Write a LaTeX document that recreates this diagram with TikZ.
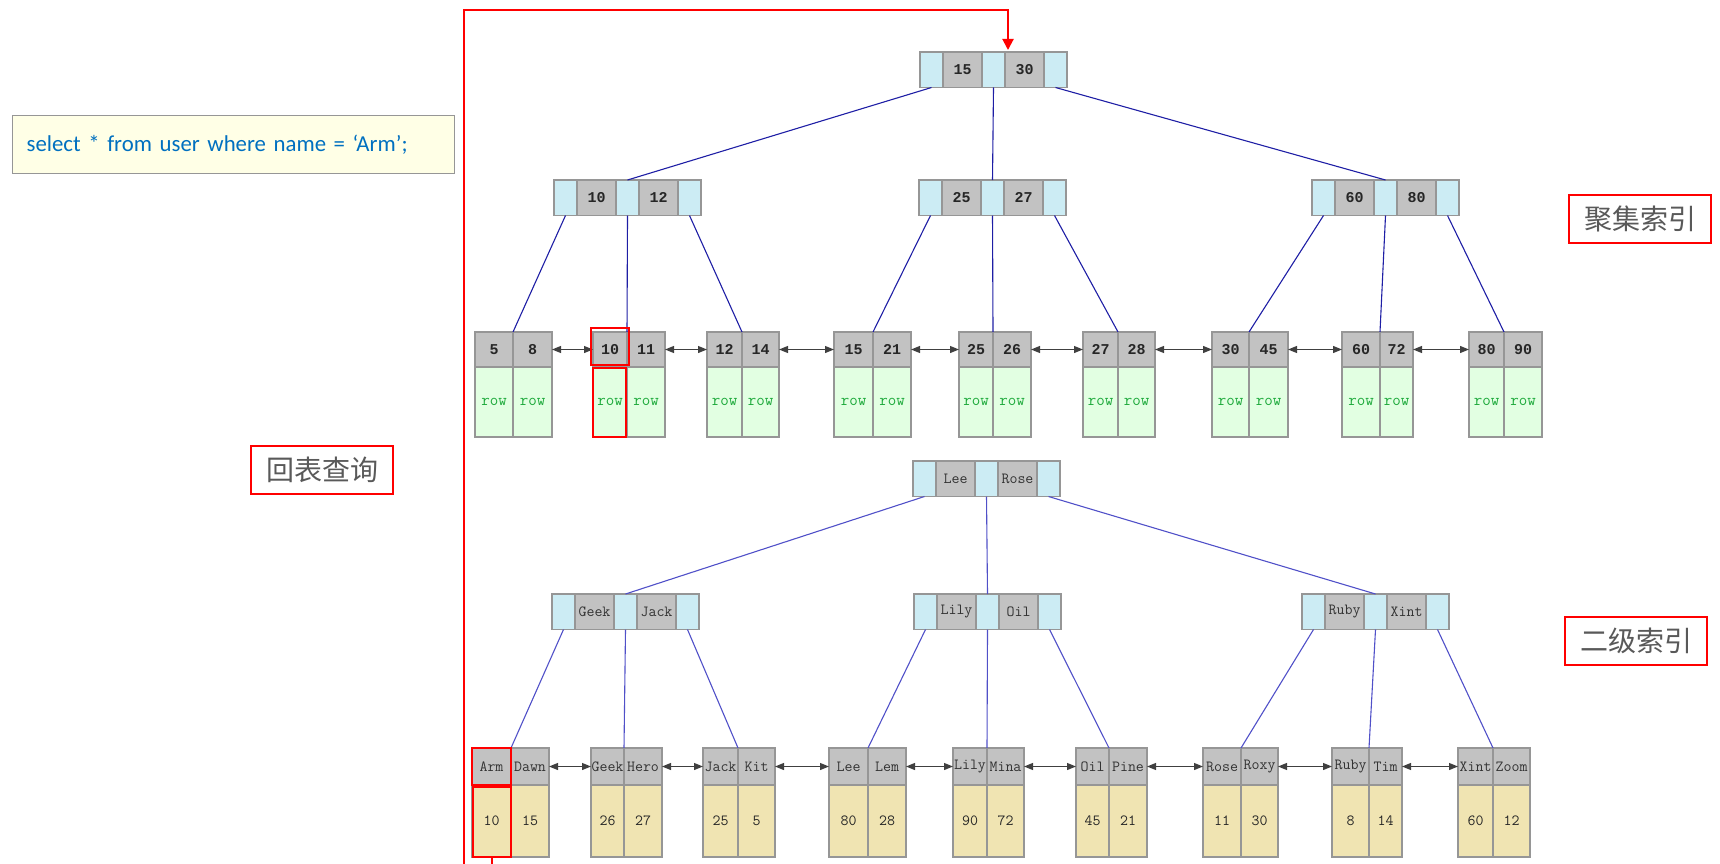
\documentclass[tikz,border=0pt]{standalone}
\usepackage{fontspec}
\newfontfamily\cjk{Noto Sans CJK SC}
\newfontfamily\calib{Carlito}
\newfontfamily\keyfont{Liberation Mono}
\usepackage{tikz}
\usetikzlibrary{positioning,arrows.meta}

\definecolor{ptrfill}{RGB}{204,236,244}
\definecolor{keyfill}{RGB}{194,194,194}
\definecolor{cellborder}{RGB}{150,150,150}
\definecolor{rowfill}{RGB}{226,255,226}
\definecolor{rowtext}{RGB}{30,170,60}
\definecolor{valfill}{RGB}{240,228,178}
\definecolor{clink}{RGB}{30,30,165}
\definecolor{slink}{RGB}{80,80,200}
\definecolor{leafarrow}{RGB}{64,64,64}
\definecolor{sqlfill}{RGB}{255,255,230}
\definecolor{sqltext}{RGB}{0,112,192}
\definecolor{labeltext}{RGB}{89,89,89}

\tikzset{
  cell/.style={draw=cellborder, line width=1.2pt, inner sep=0pt, outer sep=0pt, anchor=north west},
  ptr/.style={cell, fill=ptrfill, minimum width=23, minimum height=35.5},
  keycell/.style={cell, fill=keyfill, minimum width=39, minimum height=35.5},
  ckey/.style={font=\keyfont\bfseries\fontsize{15}{17}\selectfont, text=black!85},
  skey/.style={font=\ttfamily\fontsize{15.5}{17}\selectfont, text=black!80},
  rowcell/.style={cell, fill=rowfill, minimum height=70, font=\ttfamily\fontsize{16.5}{18}\selectfont, text=rowtext},
  valcell/.style={cell, fill=valfill, minimum height=72, font=\ttfamily\fontsize{15.5}{17}\selectfont, text=black!85},
  clinkline/.style={draw=clink, line width=1.1pt},
  slinkline/.style={draw=slink, line width=1.1pt},
  leaflink/.style={draw=leafarrow, line width=1.1pt, {Triangle[length=9pt,width=7pt]}-{Triangle[length=9pt,width=7pt]}},
  hlbox/.style={draw=red, line width=2.2pt},
  loopline/.style={draw=red, line width=2pt, -{Triangle[length=11pt,width=11pt]}},
  tag/.style={draw=red, line width=1.8pt, fill=white, minimum width=142, minimum height=48, inner sep=0pt,
    font=\cjk\fontsize{28}{30}\selectfont, text=labeltext},
}

% inner node: name, top-left corner, two keys
\newcommand{\innernode}[5][ckey]{%
  \node[ptr] (#2-p1) at (#3) {};
  \node[keycell, #1, right=0pt of #2-p1] (#2-k1) {#4};
  \node[ptr, right=0pt of #2-k1] (#2-p2) {};
  \node[keycell, #1, right=0pt of #2-p2] (#2-k2) {#5};
  \node[ptr, right=0pt of #2-k2] (#2-p3) {};
}

% clustered leaf: name, left, middle, right, two keys
\newcommand{\cleaf}[6]{%
  \node[keycell, ckey, minimum width={#3-#2}, minimum height=35] (#1-k1) at (#2,332) {#5};
  \node[keycell, ckey, minimum width={#4-#3}, minimum height=35] (#1-k2) at (#3,332) {#6};
  \node[rowcell, minimum width={#3-#2}] (#1-v1) at (#2,367) {row};
  \node[rowcell, minimum width={#4-#3}] (#1-v2) at (#3,367) {row};
}

% secondary leaf: name, left, middle, right, two keys, two ids
\newcommand{\sleaf}[8]{%
  \node[keycell, skey, minimum width={#3-#2}, minimum height=37] (#1-k1) at (#2,748) {#5};
  \node[keycell, skey, minimum width={#4-#3}, minimum height=37] (#1-k2) at (#3,748) {#6};
  \node[valcell, minimum width={#3-#2}] (#1-v1) at (#2,785) {#7};
  \node[valcell, minimum width={#4-#3}] (#1-v2) at (#3,785) {#8};
}

\begin{document}
\begin{tikzpicture}[x=1pt, y=-1pt]
    \useasboundingbox (0,0) rectangle (1720,864);

    % query
    \node[draw=cellborder, line width=1.2pt, fill=sqlfill, anchor=north west,
          text width=414, inner xsep=14, minimum height=58, align=left,
          font=\calib\fontsize{22.8}{26}\selectfont, text=sqltext] (query) at (12,115)
          {select * from user where name = ‘Arm’;};

    % labels
    \node[tag] (clustertag) at (1640,219) {聚集索引};
    \node[tag] (secondtag) at (1636,641) {二级索引};
    \node[tag] (backtag) at (322,470) {回表查询};

    % clustered index
    \innernode{cr}{920,52}{15}{30}
    \innernode{c1}{554,180}{10}{12}
    \innernode{c2}{919,180}{25}{27}
    \innernode{c3}{1312,180}{60}{80}

    \cleaf{cl1}{475}{513}{552}{5}{8}
    \cleaf{cl2}{593}{627}{665}{10}{11}
    \cleaf{cl3}{707}{742}{779}{12}{14}
    \cleaf{cl4}{834}{873}{911}{15}{21}
    \cleaf{cl5}{959}{993}{1031}{25}{26}
    \cleaf{cl6}{1083}{1118}{1155}{27}{28}
    \cleaf{cl7}{1212}{1249}{1288}{30}{45}
    \cleaf{cl8}{1342}{1380}{1413}{60}{72}
    \cleaf{cl9}{1469}{1504}{1542}{80}{90}

    \foreach \p/\c in {cr-p1/c1, cr-p2/c2, cr-p3/c3}
      \draw[clinkline] (\p.south) -- (\c-p2.north);
    \foreach \p/\c in {c1-p1/cl1, c1-p2/cl2, c1-p3/cl3, c2-p1/cl4, c2-p2/cl5, c2-p3/cl6,
                       c3-p1/cl7, c3-p2/cl8, c3-p3/cl9}
      \draw[clinkline] (\p.south) -- (\c-k1.north east);
    \foreach \a/\b in {cl1/cl2, cl2/cl3, cl3/cl4, cl4/cl5, cl5/cl6, cl6/cl7, cl7/cl8, cl8/cl9}
      \draw[leaflink] (\a-k2.east) -- (\b-k1.west);

    % secondary index
    \innernode[skey]{sr}{913,461}{Lee}{Rose}
    \innernode[skey]{s1}{552,594}{Geek}{Jack}
    \innernode[skey]{s2}{914,594}{Lily}{Oil}
    \innernode[skey]{s3}{1302,594}{Ruby}{Xint}

    \sleaf{sl1}{472}{511}{549}{Arm}{Dawn}{10}{15}
    \sleaf{sl2}{591}{624}{662}{Geek}{Hero}{26}{27}
    \sleaf{sl3}{703}{738}{775}{Jack}{Kit}{25}{5}
    \sleaf{sl4}{829}{868}{906}{Lee}{Lem}{80}{28}
    \sleaf{sl5}{953}{987}{1024}{Lily}{Mina}{90}{72}
    \sleaf{sl6}{1076}{1109}{1147}{Oil}{Pine}{45}{21}
    \sleaf{sl7}{1203}{1241}{1278}{Rose}{Roxy}{11}{30}
    \sleaf{sl8}{1332}{1369}{1402}{Ruby}{Tim}{8}{14}
    \sleaf{sl9}{1458}{1493}{1530}{Xint}{Zoom}{60}{12}

    \foreach \p/\c in {sr-p1/s1, sr-p2/s2, sr-p3/s3}
      \draw[slinkline] (\p.south) -- (\c-p2.north);
    \foreach \p/\c in {s1-p1/sl1, s1-p2/sl2, s1-p3/sl3, s2-p1/sl4, s2-p2/sl5, s2-p3/sl6,
                       s3-p1/sl7, s3-p2/sl8, s3-p3/sl9}
      \draw[slinkline] (\p.south) -- (\c-k1.north east);
    \foreach \a/\b in {sl1/sl2, sl2/sl3, sl3/sl4, sl4/sl5, sl5/sl6, sl6/sl7, sl7/sl8, sl8/sl9}
      \draw[leaflink] (\a-k2.east) -- (\b-k1.west);

    % highlight hits
    \draw[hlbox] ([shift={(-2,-4)}]cl2-k1.north west) rectangle ([shift={(2,-2)}]cl2-k1.south east);
    \draw[hlbox] ([shift={(0,1)}]cl2-v1.north west) rectangle ([shift={(-1,0)}]cl2-v1.south east);
    \draw[hlbox] (sl1-k1.north west) rectangle (sl1-k1.south east);
    \draw[hlbox] ([shift={(1,2)}]sl1-v1.north west) rectangle (sl1-v1.south east);

    % back to the table
    \coordinate (loopbot) at (464,880);
    \coordinate (looptop) at (464,10);
    \coordinate (entry) at (1008,50);
    \draw[loopline] (sl1-v1.south) |- (loopbot) -- (looptop) -| (entry);

\end{tikzpicture}
\end{document}
